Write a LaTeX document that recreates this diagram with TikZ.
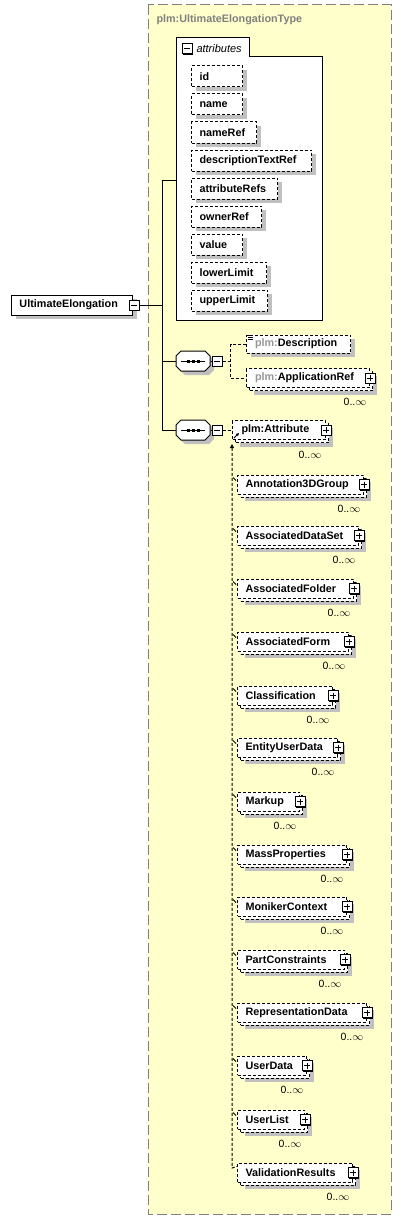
\documentclass[tikz,border=0pt]{standalone}
\usepackage{fontspec}
\setmainfont{Liberation Sans}
\usepackage{tikz}
\usetikzlibrary{arrows.meta,shadows}

\definecolor{cmplxfill}{RGB}{255,255,204}
\definecolor{cmplxline}{RGB}{128,128,128}
\definecolor{nsgray}{RGB}{150,150,150}
\definecolor{shadowgray}{RGB}{192,192,192}

\begin{document}
\begin{tikzpicture}[x=1pt,y=-1pt,line width=1pt,
        txt/.style={font=\fontsize{10.8}{12}\selectfont\bfseries},
        dsh/.style={dash pattern=on 3pt off 2pt},
        box/.style={draw,fill=white,txt,anchor=west,text width=#1,align=left,inner xsep=8pt,inner ysep=0pt},
        one/.style={box=#1,minimum height=20pt,general shadow={fill=shadowgray,shadow xshift=4pt,shadow yshift=-4pt}},
        opt/.style={one=#1,dsh},
        many/.style={box=#1,dsh,minimum height=19pt,
            general shadow={fill=shadowgray,shadow xshift=7pt,shadow yshift=-7pt},
            general shadow={fill=white,draw,dsh,shadow xshift=3pt,shadow yshift=-3pt}},
        card/.style={font=\fontsize{10.5}{12}\selectfont,inner sep=0pt},
        tog/.style={draw,solid,fill=white,minimum size=10pt,inner sep=0pt,
            general shadow={fill=black,shadow xshift=1pt,shadow yshift=-1pt}},
        minus/.style={tog,path picture={\draw ([xshift=2pt]path picture bounding box.west) -- ([xshift=-2pt]path picture bounding box.east);}},
        plus/.style={tog,path picture={\draw ([xshift=2pt]path picture bounding box.west) -- ([xshift=-2pt]path picture bounding box.east);
            \draw ([yshift=-2pt]path picture bounding box.north) -- ([yshift=2pt]path picture bounding box.south);}},
        oct/.style={draw,fill=white,general shadow={fill=shadowgray,shadow xshift=4pt,shadow yshift=-4pt}},
        seq/.style={inner sep=0pt,minimum width=34pt,minimum height=20pt,
            path picture={\draw ([xshift=5pt]path picture bounding box.west) -- ([xshift=-5pt]path picture bounding box.east);
            \draw[line width=3pt,dash pattern=on 3pt off 2pt] ([xshift=-6.5pt]path picture bounding box.center) -- ([xshift=6.5pt]path picture bounding box.center);}}]
    \useasboundingbox (0,0) rectangle (401,1220);

    % complex type
    \draw [cmplxline,fill=cmplxfill,dash pattern=on 10pt off 4pt] (148,5) rectangle (391,1214);
    \node [txt,text=cmplxline,anchor=base west,inner sep=0pt] (ttl) at (156,23) {plm:UltimateElongationType};

    % attributes
    \draw [fill=white] (176,320) -- (176,38) -- (249,38) -- (249,57) -- (322,57) -- (322,320) -- cycle;
    \node [minus] (att-m) at (187,49) {};
    \node [font=\fontsize{11}{12}\selectfont\itshape,anchor=west,inner sep=0pt] (att-t) at (196,49) {attributes};
    \coordinate (att-in) at (176,180);
    \node [opt=35pt,minimum height=21pt] (a1) at (191,76.5) {id};
    \node [opt=35pt,minimum height=21pt] (a2) at (191,104.5) {name};
    \node [opt=49pt,minimum height=21pt] (a3) at (191,132.5) {nameRef};
    \node [opt=104pt,minimum height=21pt] (a4) at (191,160.5) {descriptionTextRef};
    \node [opt=70pt,minimum height=21pt] (a5) at (191,188.5) {attributeRefs};
    \node [opt=54pt,minimum height=21pt] (a6) at (191,216.5) {ownerRef};
    \node [opt=35pt,minimum height=21pt] (a7) at (191,244.5) {value};
    \node [opt=59pt,minimum height=21pt] (a8) at (191,272.5) {lowerLimit};
    \node [opt=60pt,minimum height=21pt] (a9) at (191,300.5) {upperLimit};

    % root element
    \node [one=105pt] (ue) at (11,305) {UltimateElongation};
    \node [minus] (ue-m) at ([xshift=1pt]ue.east) {};
    \coordinate (spine) at (162,305);

    % sequences
    \draw [oct] (176,356) -- (181,351) -- (205,351) -- (210,356) -- (210,366) -- (205,371) -- (181,371) -- (176,366) -- cycle;
    \node [seq] (seqA) at (193,361) {};
    \node [minus] (seqA-m) at (217,361) {};
    \draw [oct] (176,425) -- (181,420) -- (205,420) -- (210,425) -- (210,435) -- (205,440) -- (181,440) -- (176,435) -- cycle;
    \node [seq] (seqB) at (193,430) {};
    \node [minus] (seqB-m) at (217,430) {};

    \node [opt=87pt,minimum height=18pt,inner xsep=8.5pt] (desc) at (246,344) {\textcolor{nsgray}{plm:}Description};
    \draw [line width=0.7pt] ([shift={(2pt,-1pt)}]desc.north west) -- ++(5pt,0pt)
        ([shift={(2pt,-3pt)}]desc.north west) -- ++(5pt,0pt)
        ([shift={(2pt,-5pt)}]desc.north west) -- ++(5pt,0pt);
    \node [many=106pt,inner xsep=8.5pt] (appref) at (246,378) {\textcolor{nsgray}{plm:}ApplicationRef};
    \node [plus] (appref-p) at (appref.east) {};
    \node [card] (appref-n) at ([shift={(-15pt,-14pt)}]appref.south east) {0..$\infty$};

    \node [many=75pt,inner xsep=9pt] (head) at (232,430) {plm:Attribute};
    \node [plus] (head-p) at (head.east) {};
    \node [card] (head-n) at ([shift={(-16pt,-15pt)}]head.south east) {0..$\infty$};
    \draw [line width=0.8pt,-{Triangle[length=3pt,width=3pt]}] ([shift={(2pt,2pt)}]head.south west) -- ++(5pt,5pt);

    % substitution group members
    \node [many=110pt] (annot) at (237,484.5) {Annotation3DGroup};
    \node [many=105pt] (dataset) at (237,535.5) {AssociatedDataSet};
    \node [many=100pt] (folder) at (237,588.5) {AssociatedFolder};
    \node [many=95pt] (form) at (237,641.5) {AssociatedForm};
    \node [many=79pt] (classif) at (237,695.5) {Classification};
    \node [many=84pt] (entity) at (237,747.5) {EntityUserData};
    \node [many=46pt] (markup) at (237,801.5) {Markup};
    \node [many=93pt] (mass) at (237,854.5) {MassProperties};
    \node [many=93pt] (moniker) at (237,906.5) {MonikerContext};
    \node [many=91pt] (partcons) at (237,959.5) {PartConstraints};
    \node [many=113pt] (repr) at (237,1012.5) {RepresentationData};
    \node [many=53pt] (udata) at (237,1065.5) {UserData};
    \node [many=51pt] (ulist) at (237,1119.5) {UserList};
    \node [many=99pt] (valid) at (237,1172.5) {ValidationResults};

    \node [plus] (annot-p) at (annot.east) {};
    \node [plus] (dataset-p) at (dataset.east) {};
    \node [plus] (folder-p) at (folder.east) {};
    \node [plus] (form-p) at (form.east) {};
    \node [plus] (classif-p) at (classif.east) {};
    \node [plus] (entity-p) at (entity.east) {};
    \node [plus] (markup-p) at (markup.east) {};
    \node [plus] (mass-p) at (mass.east) {};
    \node [plus] (moniker-p) at (moniker.east) {};
    \node [plus] (partcons-p) at (partcons.east) {};
    \node [plus] (repr-p) at (repr.east) {};
    \node [plus] (udata-p) at (udata.east) {};
    \node [plus] (ulist-p) at (ulist.east) {};
    \node [plus] (valid-p) at (valid.east) {};

    \node [card] (annot-n) at ([shift={(-15pt,-14pt)}]annot.south east) {0..$\infty$};
    \node [card] (dataset-n) at ([shift={(-15pt,-14pt)}]dataset.south east) {0..$\infty$};
    \node [card] (folder-n) at ([shift={(-15pt,-14pt)}]folder.south east) {0..$\infty$};
    \node [card] (form-n) at ([shift={(-15pt,-14pt)}]form.south east) {0..$\infty$};
    \node [card] (classif-n) at ([shift={(-15pt,-14pt)}]classif.south east) {0..$\infty$};
    \node [card] (entity-n) at ([shift={(-15pt,-14pt)}]entity.south east) {0..$\infty$};
    \node [card] (markup-n) at ([shift={(-15pt,-14pt)}]markup.south east) {0..$\infty$};
    \node [card] (mass-n) at ([shift={(-15pt,-14pt)}]mass.south east) {0..$\infty$};
    \node [card] (moniker-n) at ([shift={(-15pt,-14pt)}]moniker.south east) {0..$\infty$};
    \node [card] (partcons-n) at ([shift={(-15pt,-14pt)}]partcons.south east) {0..$\infty$};
    \node [card] (repr-n) at ([shift={(-15pt,-14pt)}]repr.south east) {0..$\infty$};
    \node [card] (udata-n) at ([shift={(-15pt,-14pt)}]udata.south east) {0..$\infty$};
    \node [card] (ulist-n) at ([shift={(-15pt,-14pt)}]ulist.south east) {0..$\infty$};
    \node [card] (valid-n) at ([shift={(-15pt,-14pt)}]valid.south east) {0..$\infty$};

    % connectors
    \draw (ue-m.east) -- (spine);
    \draw (att-in) -- ++(-14,0) |- (seqB.west);
    \draw (seqA.west) -- (seqA.west -| spine);
    \draw (seqA.east) -- (seqA-m.west);
    \draw (seqB.east) -- (seqB-m.west);
    \draw [dsh] (seqA-m.east) -- ++(8,0) coordinate (chc);
    \draw [dsh] (desc.west) -| (chc) |- (appref.west);
    \draw [dsh] (seqB-m.east) -- (head.west);
    \coordinate (sg-end) at (232,1168);
    \draw [dsh,{Triangle[length=4pt,width=4pt]}-] ([yshift=-4pt]head.south west) -- (sg-end) -- ([shift={(0pt,-4pt)}]valid.north west);
    \foreach \n in {annot,dataset,folder,form,classif,entity,markup,mass,moniker,partcons,repr,udata,ulist}
        \draw [line width=0.8pt] ([shift={(-4pt,-3pt)}]\n.north west) -- ++(3pt,-3pt);
\end{tikzpicture}
\end{document}
